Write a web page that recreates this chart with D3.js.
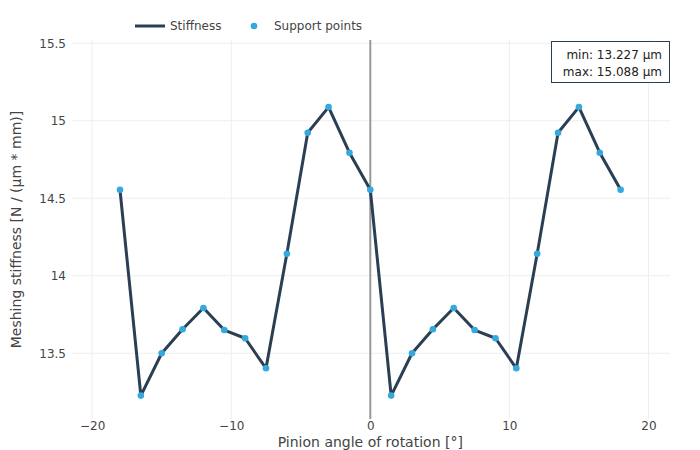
<!DOCTYPE html>
<html><head><meta charset="utf-8">
<script src="https://cdn.jsdelivr.net/npm/d3@7"></script>
<style>body{margin:0;background:#fff}svg{font-family:"DejaVu Sans",sans-serif}</style>
</head><body><svg id="c" width="700" height="450"></svg>
<script>
const angles = [-18,-16.5,-15,-13.5,-12,-10.5,-9,-7.5,-6,-4.5,-3,-1.5,0,1.5,3,4.5,6,7.5,9,10.5,12,13.5,15,16.5,18];
const stiffness = [14.555,13.227,13.50,13.655,13.792,13.65,13.597,13.403,14.142,14.923,15.088,14.794,14.555,13.227,13.50,13.655,13.792,13.65,13.597,13.403,14.142,14.923,15.088,14.794,14.555];
const xTicks = [-20,-10,0,10,20];
const yTicks = [13.5,14,14.5,15,15.5];
const legendLabels = ["Stiffness","Support points"];
const annotLines = ["min: 13.227 μm","max: 15.088 μm"];
const xTitle = "Pinion angle of rotation [°]";
const yTitle = "Meshing stiffness [N / (μm * mm)]";

const svg = d3.select("#c");
const L=72,R=670,T=40,B=419;
const x = d3.scaleLinear().domain([-21.45,21.55]).range([L,R]);
const y = d3.scaleLinear().domain([13.076,15.521]).range([B,T]);
const fmt = v => (v<0?"\u2212":"")+Math.abs(v);

// grid
svg.append("g").selectAll("line").data(xTicks).join("line")
  .attr("x1",d=>x(d)).attr("x2",d=>x(d)).attr("y1",T).attr("y2",B)
  .attr("stroke","#eee").attr("stroke-width",1);
svg.append("g").selectAll("line").data(yTicks).join("line")
  .attr("x1",L).attr("x2",R).attr("y1",d=>y(d)).attr("y2",d=>y(d))
  .attr("stroke","#eee").attr("stroke-width",1);
// zero line
svg.append("line").attr("x1",x(0)).attr("x2",x(0)).attr("y1",T).attr("y2",B)
  .attr("stroke","#999").attr("stroke-width",2);

// axes
const xAxis = d3.axisBottom(x).tickValues(xTicks).tickSize(0).tickFormat(fmt);
const gx = svg.append("g").attr("transform",`translate(0,${B})`).call(xAxis);
gx.select(".domain").remove();
gx.selectAll("text").attr("fill","#444").attr("font-size",12).attr("y",7).attr("dy","0.35em").attr("font-family","DejaVu Sans");
const yAxis = d3.axisLeft(y).tickValues(yTicks).tickSize(0).tickFormat(d=>d);
const gy = svg.append("g").attr("transform",`translate(${L-3},0)`).call(yAxis);
gy.select(".domain").remove();
gy.selectAll("text").attr("fill","#444").attr("font-size",12).attr("dy","0.35em").attr("font-family","DejaVu Sans");

// titles
svg.append("text").attr("x",x(0)).attr("y",442).attr("dy","0.35em").attr("text-anchor","middle")
  .attr("font-size",14).attr("fill","#444").text(xTitle);
svg.append("text").attr("transform",`translate(16,${(T+B)/2}) rotate(-90)`).attr("dy","0.35em").attr("text-anchor","middle")
  .attr("font-size",14).attr("fill","#444").text(yTitle);

// line
const line = d3.line().x((d,i)=>x(angles[i])).y(d=>y(d));
svg.append("path").datum(stiffness).attr("d",line).attr("fill","none")
  .attr("stroke","#2a3f54").attr("stroke-width",3).attr("stroke-linejoin","round");
svg.append("g").selectAll("circle").data(stiffness).join("circle")
  .attr("cx",(d,i)=>x(angles[i])).attr("cy",d=>y(d)).attr("r",3.3).attr("fill","#33a9de");

// legend
const lg = svg.append("g");
lg.append("line").attr("x1",135).attr("x2",165).attr("y1",26).attr("y2",26).attr("stroke","#2a3f54").attr("stroke-width",3);
lg.append("text").attr("x",170).attr("y",26).attr("dy","0.35em").attr("font-size",12).attr("fill","#444").text(legendLabels[0]);
lg.append("circle").attr("cx",254).attr("cy",26).attr("r",3.3).attr("fill","#33a9de");
lg.append("text").attr("x",274).attr("y",26).attr("dy","0.35em").attr("font-size",12).attr("fill","#444").text(legendLabels[1]);

// annotation box
svg.append("rect").attr("x",551.5).attr("y",41.5).attr("width",118).attr("height",41)
  .attr("fill","#fff").attr("stroke","#2a3f54").attr("stroke-width",1);
svg.append("g").selectAll("text").data(annotLines).join("text")
  .attr("x",662).attr("y",(d,i)=>54.5+i*17.5).attr("dy","0.35em").attr("text-anchor","end")
  .attr("font-size",12).attr("fill","#222").text(d=>d);
</script></body></html>
